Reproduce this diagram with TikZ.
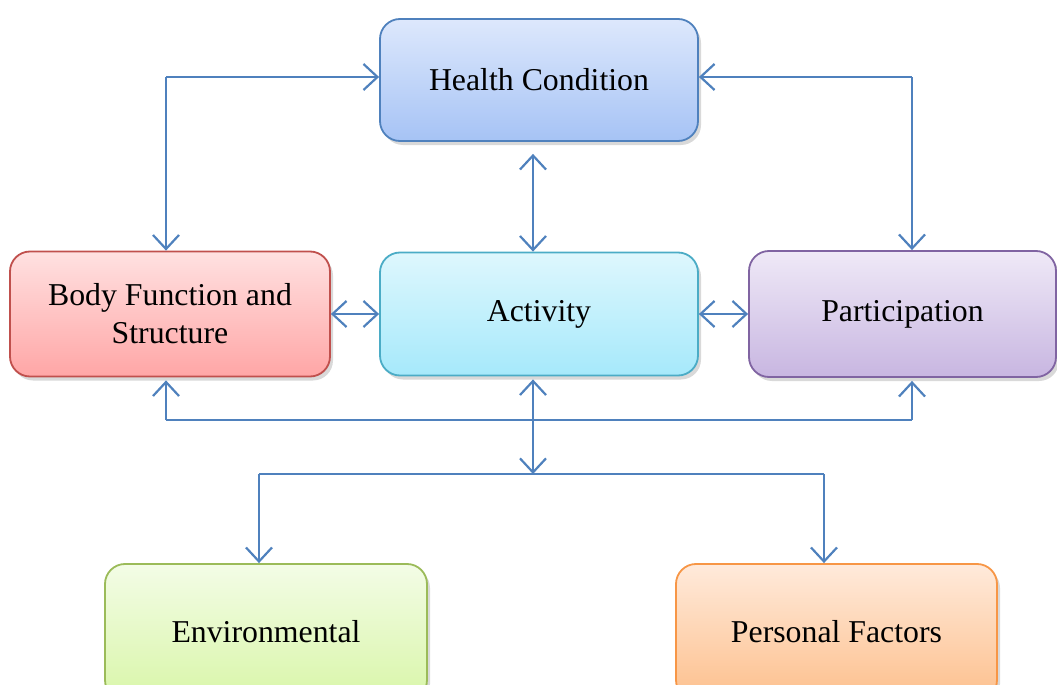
\documentclass[tikz,border=0pt]{standalone}
\usepackage{fontspec}
\setmainfont{Liberation Serif}
\usepackage{tikz}
\usetikzlibrary{positioning,arrows.meta,calc,shadows}
\usepackage{xcolor}
\definecolor{linkblue}{HTML}{4F81BD}
\definecolor{hcTop}{HTML}{DDE8FC}
\definecolor{hcBot}{HTML}{A6C3F5}
\definecolor{bfLine}{HTML}{C0504D}
\definecolor{bfTop}{HTML}{FFE1E1}
\definecolor{bfBot}{HTML}{FFA6A6}
\definecolor{acLine}{HTML}{4BACC6}
\definecolor{acTop}{HTML}{DEF7FD}
\definecolor{acBot}{HTML}{A6E9FB}
\definecolor{paLine}{HTML}{8064A2}
\definecolor{paTop}{HTML}{EFE9F7}
\definecolor{paBot}{HTML}{C8B6E1}
\definecolor{enLine}{HTML}{9BBB59}
\definecolor{enTop}{HTML}{F3FCE6}
\definecolor{enBot}{HTML}{D9F6A9}
\definecolor{peLine}{HTML}{F79646}
\definecolor{peTop}{HTML}{FFEADB}
\definecolor{peBot}{HTML}{FDC08D}
\tikzset{
  >={Straight Barb[length=7pt,width=13pt]},
  box/.style={rectangle, rounded corners=10pt, line width=0.9pt,
    align=center, inner sep=4pt,
    font=\fontsize{15.9}{19}\selectfont,
    drop shadow={shadow xshift=1.5pt, shadow yshift=-2pt, opacity=0.3}},
  link/.style={draw=linkblue, line width=1.1pt},
}

\begin{document}
\begin{tikzpicture}[x=0.5pt, y=-0.5pt]
\clip (0,0) rectangle (1057,685);

% boxes
\node[box, draw=linkblue, top color=hcTop, bottom color=hcBot,
  minimum width=159pt, minimum height=61pt] (health) at (539,80) {Health Condition};
\node[box, draw=bfLine, top color=bfTop, bottom color=bfBot,
  minimum width=160pt, minimum height=62.5pt] (body) at (170,314) {Body Function and\\Structure};
\node[box, draw=acLine, top color=acTop, bottom color=acBot,
  minimum width=159pt, minimum height=61.5pt] (activity) at (539,314) {Activity};
\node[box, draw=paLine, top color=paTop, bottom color=paBot,
  minimum width=153.5pt, minimum height=63pt] (particip) at (902.5,314) {Participation};
\node[box, draw=enLine, top color=enTop, bottom color=enBot,
  minimum width=161pt, minimum height=68pt] (env) at (266,632) {Environmental};
\node[box, draw=peLine, top color=peTop, bottom color=peBot,
  minimum width=160.5pt, minimum height=68pt] (personal) at (836.5,632) {Personal Factors};

% corner and bus points
\coordinate (tl) at (166,77);
\coordinate (tr) at (912,77);
\coordinate (bl) at (166,420);
\coordinate (br) at (912,420);
\coordinate (mid) at (533,420);
\coordinate (lbl) at (259,474);
\coordinate (lbr) at (824,474);

% links
\draw[link,->] (tl) -- (health.west |- tl);
\draw[link,->] (tl) -- (tl |- body.north);
\draw[link,->] (tr) -- (health.east |- tr);
\draw[link,->] (tr) -- (tr |- particip.north);
\draw[link,<->,shorten <=6pt] (mid |- health.south) -- (mid |- activity.north);
\draw[link,<->] (body.east) -- (activity.west);
\draw[link,<->] (activity.east) -- (particip.west);

\draw[link,->,shorten >=1.5pt] (bl) -- (bl |- body.south);
\draw[link] (bl) -- (br);
\draw[link,->,shorten >=1.5pt] (br) -- (br |- particip.south);
\draw[link,<->,shorten <=1.5pt] (mid |- activity.south) -- (mid |- lbl);
\draw[link,->] (lbl) -- (lbl |- env.north);
\draw[link] (lbl) -- (lbr);
\draw[link,->] (lbr) -- (lbr |- personal.north);
\end{tikzpicture}
\end{document}
